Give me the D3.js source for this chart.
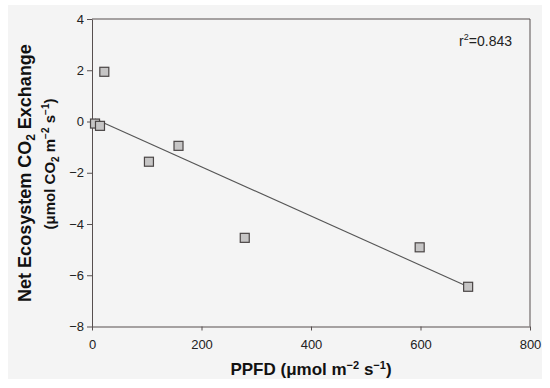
<!DOCTYPE html>
<html>
<head>
<meta charset="utf-8">
<script src="https://cdn.jsdelivr.net/npm/d3@7"></script>
<style>
  body { margin: 0; background: #fff; }
  svg { display: block; font-family: "Liberation Sans", Arial, sans-serif; }
  .axis path, .axis line { stroke: #574f4f; }
  .axis text { font-size: 13px; fill: #222; font-family: "Liberation Sans", Arial, sans-serif; }
  .title { font-weight: bold; fill: #111; }
</style>
</head>
<body>
<div id="chart"></div>
<script>
/* Values. */
const ppfd = [5.5, 14.6, 22.5, 104, 158, 279, 598.5, 687];
const nee = [-0.08, -0.17, 1.94, -1.57, -0.95, -4.54, -4.91, -6.45];
const xTicks = [0, 200, 400, 600, 800];
const yTicks = [-8, -6, -4, -2, 0, 2, 4];
const fitSlope = -0.0096;
const fitIntercept = 0.15;
const rSquared = '0.843';

const width = 550;
const height = 388;
const plot = { left: 92, right: 530, top: 19, bottom: 326.5 };

const svg = d3.select('#chart').append('svg')
  .attr('width', width)
  .attr('height', height);

// grey panel behind everything
svg.append('rect')
  .attr('x', 8).attr('y', 5)
  .attr('width', 534).attr('height', 374)
  .attr('fill', '#f4f4f4');

const x = d3.scaleLinear().domain([0, 800]).range([plot.left, plot.right]);
const y = d3.scaleLinear().domain([-8, 4]).range([plot.bottom, plot.top]);

const fmt = (d) => (d < 0 ? '\u2212' + Math.abs(d) : String(d));

// frame: top and right edges
svg.append('path')
  .attr('d', `M${plot.left},${plot.top}H${plot.right}V${plot.bottom}`)
  .attr('fill', 'none')
  .attr('stroke', '#574f4f');

svg.append('g')
  .attr('class', 'axis')
  .attr('transform', `translate(0,${plot.bottom})`)
  .call(d3.axisBottom(x).tickValues(xTicks).tickSize(4).tickPadding(9).tickSizeOuter(0).tickFormat(fmt));

svg.append('g')
  .attr('class', 'axis')
  .attr('transform', `translate(${plot.left},0)`)
  .call(d3.axisLeft(y).tickValues(yTicks).tickSize(5).tickPadding(3).tickSizeOuter(0).tickFormat(fmt));

// regression line across the data range
const [xMin, xMax] = d3.extent(ppfd);
svg.append('line')
  .attr('x1', x(xMin)).attr('y1', y(fitIntercept + fitSlope * xMin))
  .attr('x2', x(xMax)).attr('y2', y(fitIntercept + fitSlope * xMax))
  .attr('stroke', '#555')
  .attr('stroke-width', 1.1);

const s = 9;
svg.append('g').selectAll('rect')
  .data(ppfd.map((v, i) => ({ x: v, y: nee[i] })))
  .enter()
  .append('rect')
  .attr('x', (d) => x(d.x) - s / 2)
  .attr('y', (d) => y(d.y) - s / 2)
  .attr('width', s)
  .attr('height', s)
  .attr('fill', '#c6c5c5')
  .attr('stroke', '#4a4545')
  .attr('stroke-width', 1.2);

// r^2 label
const r2 = svg.append('text')
  .attr('x', 512).attr('y', 46)
  .attr('text-anchor', 'end')
  .attr('font-size', 14)
  .attr('fill', '#222');
r2.append('tspan').text('r');
r2.append('tspan').attr('font-size', 9).attr('dy', -6).text('2');
r2.append('tspan').attr('dy', 6).text('=' + rSquared);

// x title
const xt = svg.append('text')
  .attr('class', 'title')
  .attr('x', 311).attr('y', 375)
  .attr('text-anchor', 'middle')
  .attr('font-size', 17);
xt.append('tspan').text('PPFD (μmol m');
xt.append('tspan').attr('font-size', 11).attr('dy', -6).text('−2');
xt.append('tspan').attr('dy', 6).text(' s');
xt.append('tspan').attr('font-size', 11).attr('dy', -6).text('−1');
xt.append('tspan').attr('dy', 6).text(')');

// y title, two lines
const yt1 = svg.append('text')
  .attr('class', 'title')
  .attr('transform', 'translate(31,173) rotate(-90)')
  .attr('text-anchor', 'middle')
  .attr('font-size', 18);
yt1.append('tspan').text('Net Ecosystem CO');
yt1.append('tspan').attr('font-size', 12).attr('dy', 4).text('2');
yt1.append('tspan').attr('dy', -4).text(' Exchange');

const yt2 = svg.append('text')
  .attr('class', 'title')
  .attr('transform', 'translate(55,164) rotate(-90)')
  .attr('text-anchor', 'middle')
  .attr('font-size', 15);
yt2.append('tspan').text('(μmol CO');
yt2.append('tspan').attr('font-size', 10).attr('dy', 4).text('2');
yt2.append('tspan').attr('dy', -4).text(' m');
yt2.append('tspan').attr('font-size', 10).attr('dy', -6).text('−2');
yt2.append('tspan').attr('dy', 6).text(' s');
yt2.append('tspan').attr('font-size', 10).attr('dy', -6).text('−1');
yt2.append('tspan').attr('dy', 6).text(')');
</script>
</body>
</html>
